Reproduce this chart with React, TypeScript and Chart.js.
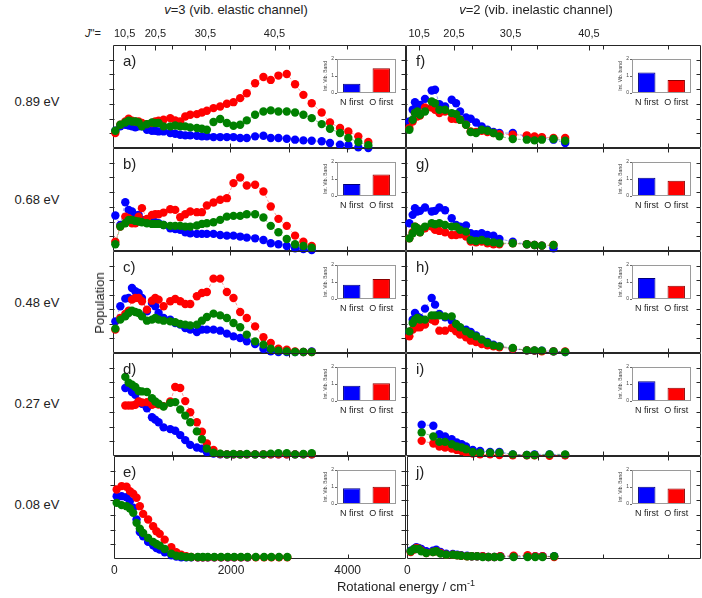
import React, { useEffect, useRef } from "react";
import { Chart, registerables } from "chart.js";
Chart.register(...registerables);

const FONT = '"Liberation Sans", Arial, Helvetica, sans-serif';

// Rotational energies (cm^-1) of plotted J'' levels
const energiesV3 = [40, 125, 210, 267, 324, 381, 437, 494, 579, 665, 721, 778, 863, 977, 1062, 1147, 1233, 1318, 1431, 1517, 1602, 1715, 1829, 1943, 2056, 2170, 2283, 2425, 2567, 2692, 2823, 2965, 3107, 3249, 3391, 3561, 3703, 3874, 4016, 4186, 4357];
const energiesV2 = [51, 102, 137, 173, 214, 290, 392, 443, 509, 596, 697, 764, 825, 916, 987, 1069, 1155, 1242, 1334, 1425, 1629, 1843, 1960, 2072, 2250, 2428];
const energiesV2i = [239, 417, 509, 596, 697, 774, 850, 916, 1018, 1130, 1283, 1425, 1629, 1843, 1960, 2189, 2428];

// Top axis J'' labels
const jLabels = ["10,5", "20,5", "30,5", "40,5"];
const jEnergiesV3 = [198, 723, 1576, 2756];
const jEnergiesV2 = [200, 732, 1595, 2790];

// v=3 panels (a-e)
const aBlue = [1.68, 2.1, 2.26, 2.19, 2.1, 2.0, 2.1, 2.1, 1.77, 1.68, 1.68, 1.61, 1.61, 1.45, 1.39, 1.29, 1.23, 1.23, 1.19, 1.13, 1.13, 1.06, 1.06, 1.06, 1.06, 0.97, 0.97, 1.13, 1.19, 0.97, 0.97, 0.9, 0.81, 0.74, 0.71, 0.65, 0.48, 0.32, 0.26, 0.06, 0.0];
const aRed = [1.45, 2.26, 2.58, 2.84, 2.65, 2.58, 2.58, 2.42, 2.32, 2.42, 2.58, 2.65, 2.74, 2.9, 2.68, 2.58, 3.06, 3.23, 3.29, 3.45, 3.61, 3.87, 4.03, 4.29, 4.45, 4.84, 5.32, 6.29, 6.9, 6.61, 7.03, 7.19, 6.19, 5.16, 4.35, 3.45, 2.48, 1.94, 1.61, 1.13, 0.58];
const aGreen = [1.68, 2.26, 2.48, 2.65, 2.58, 2.58, 2.48, 2.1, 2.32, 2.48, 2.42, 2.42, 2.1, 2.1, 2.19, 2.1, 2.1, 2.0, 1.94, 1.87, 1.77, 2.52, 2.81, 2.42, 2.16, 2.26, 2.68, 3.23, 3.55, 3.65, 3.55, 3.55, 3.45, 3.23, 2.9, 2.32, 1.87, 1.45, 0.97, 0.58, 0.26];

const bBlue = [3.44, 2.53, 4.74, 3.99, 3.83, 3.44, 3.51, 3.02, 2.79, 2.79, 2.79, 2.69, 2.53, 2.21, 2.14, 2.05, 1.82, 1.72, 1.66, 1.66, 1.66, 1.66, 1.56, 1.49, 1.49, 1.4, 1.3, 1.23, 1.07, 0.75, 0.65, 0.49, 0.26, 0.19, 0.1];
const bRed = [0.91, 2.37, 3.34, 3.18, 2.69, 2.69, 3.34, 4.16, 3.12, 3.51, 3.57, 3.57, 3.73, 4.06, 3.99, 3.28, 3.57, 3.83, 3.77, 3.77, 4.42, 4.71, 4.97, 5.13, 6.59, 7.14, 6.36, 6.43, 5.78, 4.32, 3.12, 2.44, 1.49, 0.91, 0.49];
const bGreen = [0.65, 2.37, 2.69, 3.02, 3.02, 2.92, 2.86, 2.79, 2.69, 2.63, 2.63, 2.63, 2.53, 2.44, 2.44, 2.44, 2.37, 2.37, 2.47, 2.63, 2.69, 2.79, 3.02, 3.34, 3.41, 3.41, 3.57, 3.57, 3.25, 2.44, 1.82, 1.17, 0.65, 0.49, 0.32];

const cBlue = [3.1, 4.58, 5.33, 5.39, 6.37, 6.05, 5.88, 5.39, 4.08, 4.9, 4.58, 3.92, 3.43, 3.27, 2.94, 2.78, 2.45, 2.29, 2.06, 2.29, 2.29, 2.29, 2.19, 1.9, 1.63, 1.47, 1.14, 0.88, 0.42, 0.16, 0.1, 0.1, 0.1, 0.1, 0.16];
const cRed = [2.29, 3.43, 3.82, 4.15, 5.23, 5.39, 5.39, 5.07, 4.25, 5.13, 5.39, 5.23, 4.58, 5.07, 5.29, 5.07, 4.8, 4.8, 5.56, 5.88, 5.98, 7.29, 7.29, 5.98, 5.39, 4.02, 3.43, 2.61, 1.54, 0.98, 0.42, 0.33, 0.16, 0.1, 0.1];
const cGreen = [2.39, 3.27, 3.59, 3.92, 4.15, 4.02, 3.92, 3.59, 3.17, 3.27, 3.43, 3.27, 3.17, 3.1, 3.01, 2.84, 2.78, 2.71, 2.78, 3.17, 3.53, 3.86, 3.69, 3.43, 2.94, 2.52, 1.8, 1.14, 0.82, 0.42, 0.23, 0.16, 0.1, 0.1, 0.1];

const dBlue = [null, null, 6.6, 6.7, 6.21, 5.95, 5.29, 5.07, 4.64, 3.76, 3.53, 3.27, 2.78, 2.61, 2.45, 2.03, 1.54, 1.08, 0.82, 0.72, 0.39, 0.23, 0.16, 0.16, 0.16, 0.16, 0.16, 0.16, 0.16, 0.16, 0.16, 0.16, 0.16, 0.16, 0.16];
const dRed = [null, null, 4.9, 4.9, 4.9, 4.97, 5.29, 5.2, 5.23, 4.97, 5.07, 5.0, 4.84, 5.29, 6.7, 6.6, 5.33, 4.25, 3.27, 2.35, 1.21, 0.59, 0.2, 0.16, 0.16, 0.16, 0.16, 0.16, 0.16, 0.16, 0.16, 0.16, 0.16, 0.16, 0.16];
const dGreen = [null, null, 7.68, 7.12, 6.93, 6.7, 6.31, 6.27, 6.21, 5.62, 5.29, 5.07, 4.8, 5.16, 5.23, 4.51, 3.92, 3.27, 2.39, 1.63, 0.72, 0.33, 0.23, 0.16, 0.2, 0.16, 0.2, 0.16, 0.16, 0.23, 0.26, 0.26, 0.16, 0.2, 0.26];

const eBlue = [6.1, 6.1, 6.0, 5.62, 4.97, 3.83, 2.63, 2.21, 1.66, 1.33, 1.07, 0.91, 0.65, 0.36, 0.23, 0.16, 0.16, 0.16, 0.16, 0.16, 0.16, 0.16, 0.16, 0.16, 0.16, 0.16, 0.16];
const eRed = [6.75, 7.08, 7.01, 6.59, 6.33, 5.94, 5.13, 4.38, 3.83, 3.18, 2.69, 2.44, 1.88, 1.14, 0.65, 0.42, 0.26, 0.19, 0.16, 0.16, 0.16, 0.16, 0.16, 0.16, 0.16, 0.16, 0.16, 0.16, 0.16, 0.16, 0.16, 0.16];
const eGreen = [5.45, 5.23, 5.13, 4.9, 4.48, 3.51, 2.95, 2.53, 2.05, 1.66, 1.46, 1.3, 0.97, 0.52, 0.32, 0.26, 0.19, 0.19, 0.19, 0.19, 0.19, 0.19, 0.19, 0.19, 0.19, 0.19, 0.19, 0.19, 0.19, 0.19, 0.19, 0.19];

// v=2 panels (f-j)
const fBlue = [2.58, 3.71, 4.45, 4.19, 4.19, 4.77, 5.58, 5.65, 4.26, 4.03, 4.68, 4.35, 3.55, 2.97, 2.84, 2.48, 2.1, 1.77, 1.55, 1.45, 1.45, 1.13, 0.9, 0.97, 0.81, 0.48];
const fRed = [1.94, 2.58, 3.39, 3.06, 3.16, 3.94, 3.94, 3.71, 3.39, 3.55, 2.84, 2.81, 2.74, 2.26, 1.61, 1.55, 1.68, 1.55, 1.45, 1.35, 1.29, 1.23, 1.13, 1.06, 0.97, 0.97];
const fGreen = [1.77, 2.74, 3.39, 3.55, 3.23, 3.55, 4.52, 4.35, 3.71, 3.71, 3.39, 3.29, 2.74, 2.26, 1.55, 1.45, 1.77, 1.68, 1.45, 1.13, 0.87, 0.81, 0.74, 0.81, 0.87, 0.71];

const gBlue = [2.69, 3.51, 4.16, 3.83, 3.9, 4.22, 3.83, 3.9, 4.22, 3.96, 3.18, 2.53, 2.37, 2.47, 1.72, 1.62, 1.72, 1.56, 1.49, 1.17, 0.91, 0.65, 0.58, 0.52, 0.26];
const gRed = [1.23, 1.82, 2.37, 2.21, 1.82, 2.21, 2.37, 2.05, 1.95, 1.82, 1.56, 1.56, 1.62, 1.4, 0.91, 0.84, 0.91, 0.75, 0.65, 0.65, 0.75, 0.65, 0.58, 0.52, 0.58];
const gGreen = [1.23, 1.72, 2.37, 2.21, 1.82, 2.37, 2.69, 2.6, 2.69, 2.53, 2.37, 2.37, 2.05, 1.88, 1.07, 0.97, 1.07, 0.91, 0.84, 0.75, 0.75, 0.65, 0.58, 0.52, 0.58];

const hBlue = [2.06, 3.27, 3.92, 3.59, 3.43, 4.35, 5.39, 4.74, 3.82, 3.5, 3.17, 2.78, 2.45, 2.29, 2.06, 1.73, 1.31, 1.08, 0.82, 0.65, 0.42, 0.26, 0.23, 0.23, 0.16, 0.1];
const hRed = [1.63, 2.29, 2.61, 2.52, 2.52, 2.78, 3.27, 3.1, 2.19, 2.19, 2.45, 2.12, 1.8, 1.54, 1.21, 1.08, 0.88, 0.75, 0.65, 0.56, 0.42, 0.26, 0.23, 0.16, 0.16, 0.16];
const hGreen = [2.12, 2.94, 3.27, 3.43, 3.27, 3.27, 3.69, 3.69, 3.69, 3.59, 3.59, 2.84, 2.52, 2.12, 1.86, 1.63, 1.31, 0.98, 0.75, 0.65, 0.49, 0.26, 0.26, 0.23, 0.16, 0.1];

const iBlue = [3.04, 2.94, 2.12, 1.9, 1.63, 1.31, 1.14, 0.92, 0.59, 0.49, 0.39, 0.39, 0.16, 0.1, 0.16, 0.16, 0.1];
const iRed = [1.47, 1.21, 0.92, 0.82, 0.72, 0.59, 0.49, 0.33, 0.23, 0.16, 0.16, 0.1, 0.07, 0.07, 0.07, 0.03, 0.07];
const iGreen = [2.29, 1.9, 1.37, 1.37, 1.14, 0.92, 0.82, 0.65, 0.39, 0.33, 0.33, 0.33, 0.16, 0.1, 0.1, 0.16, 0.16];

const jBlue = [0.81, 0.97, 1.14, 1.07, 0.97, 0.75, 0.81, 0.91, 0.68, 0.52, 0.49, 0.42, 0.36, 0.32, 0.26, 0.26, 0.26, 0.19, 0.19, 0.26, 0.26, 0.26, 0.26, 0.26, 0.26];
const jRed = [0.68, 0.91, 1.07, 1.01, 0.81, 0.58, 0.68, 0.75, 0.58, 0.42, 0.42, 0.36, 0.32, 0.26, 0.26, 0.26, 0.26, 0.19, 0.19, 0.26, 0.32, 0.36, 0.26, 0.26, 0.19];
const jGreen = [0.75, 0.97, 0.97, 0.97, 0.75, 0.58, 0.68, 0.75, 0.52, 0.42, 0.42, 0.36, 0.32, 0.26, 0.26, 0.26, 0.19, 0.19, 0.19, 0.19, 0.19, 0.19, 0.19, 0.19, 0.26];

// Inset bar values (Int. Vib. Band): [N first, O first]
const barLabels = ["N first", "O first"];
const barsA = [0.55, 1.45];
const barsB = [0.71, 1.26];
const barsC = [0.84, 1.18];
const barsD = [0.9, 1.05];
const barsE = [0.93, 1.01];
const barsF = [1.2, 0.76];
const barsG = [1.08, 0.9];
const barsH = [1.24, 0.78];
const barsI = [1.16, 0.78];
const barsJ = [1.01, 0.91];

const rowLabels = ["0.89 eV", "0.68 eV", "0.48 eV", "0.27 eV", "0.08 eV"];
const panelLetters = ["a)", "b)", "c)", "d)", "e)", "f)", "g)", "h)", "i)", "j)"];

// Layout
const COL_X = [113, 406];
const COL_W = [293, 295];
const X_MAX = [5000, 4500];
const ROW_TOP = [45, 148, 251, 353, 456];
const ROW_BOTTOM = 559;
const ROW_LABEL_Y = [102, 200, 303, 404, 505];
const Y_MAX = 10;
const Y_DIV = 7;

const BLUE = "#0000ff";
const RED = "#ff0000";
const GREEN = "#008000";

function toPoints(energies: number[], values: (number | null)[]) {
  const pts: { x: number; y: number }[] = [];
  values.forEach((v, i) => {
    if (v !== null && i < energies.length) pts.push({ x: energies[i], y: v });
  });
  return pts;
}

function framePlugin(jEnergies: number[] | null) {
  return {
    id: "frameTicks",
    beforeDatasetsDraw(chart: any) {
      const { ctx, chartArea: ca } = chart;
      const xs = chart.scales.x;
      const ys = chart.scales.y;
      ctx.save();
      ctx.strokeStyle = "#262626";
      ctx.lineWidth = 1;
      const L = Math.round(ca.left) + 0.5;
      const R = Math.round(ca.right) - 0.5;
      const T = Math.round(ca.top) + 0.5;
      const B = Math.round(ca.bottom) - 0.5;
      ctx.beginPath();
      ctx.rect(L, T, R - L, B - T);
      for (let v = 1000; v < xs.max; v += 1000) {
        const px = Math.round(xs.getPixelForValue(v)) + 0.5;
        ctx.moveTo(px, B);
        ctx.lineTo(px, B - 4);
        ctx.moveTo(px, T);
        ctx.lineTo(px, T + 4);
      }
      for (let k = 1; k < Y_DIV; k++) {
        const py = Math.round(ys.getPixelForValue((k * Y_MAX) / Y_DIV)) + 0.5;
        ctx.moveTo(L - 4, py);
        ctx.lineTo(L + 1, py);
        ctx.moveTo(R - 4, py);
        ctx.lineTo(R, py);
      }
      if (jEnergies) {
        for (const e of jEnergies) {
          const px = Math.round(xs.getPixelForValue(e)) + 0.5;
          ctx.moveTo(px, T);
          ctx.lineTo(px, T + 5);
        }
      }
      ctx.stroke();
      if (jEnergies) {
        ctx.fillStyle = "#222";
        ctx.font = `11px ${FONT}`;
        ctx.textAlign = "center";
        ctx.textBaseline = "middle";
        jEnergies.forEach((e, i) => ctx.fillText(jLabels[i], xs.getPixelForValue(e), T - 12));
      }
      ctx.restore();
    },
  };
}

type PanelProps = {
  col: number;
  row: number;
  energies: number[];
  blue: (number | null)[];
  red: (number | null)[];
  green: (number | null)[];
};

function Panel({ col, row, energies, blue, red, green }: PanelProps) {
  const ref = useRef<HTMLCanvasElement>(null);
  const P = 6;
  const isTop = row === 0;
  const isBottom = row === 4;
  const PT = isTop ? 22 : P;
  const AX = 24;
  const x0 = COL_X[col];
  const w = COL_W[col];
  const top = ROW_TOP[row];
  const h = (row < 4 ? ROW_TOP[row + 1] : ROW_BOTTOM) - top;
  const cw = w + 2 * P;
  const ch = PT + h + (isBottom ? AX : P);

  useEffect(() => {
    const mk = (vals: (number | null)[], color: string, line: string) => ({
      data: toPoints(energies, vals),
      showLine: true,
      borderColor: line,
      borderWidth: 1,
      borderDash: [3, 2],
      pointRadius: 4.2,
      pointBackgroundColor: color,
      pointBorderColor: color,
      pointBorderWidth: 0,
      clip: false,
    });
    const jE = isTop ? (col === 0 ? jEnergiesV3 : jEnergiesV2) : null;
    const xScale: any = {
      type: "linear",
      min: 0,
      max: X_MAX[col],
      display: isBottom,
      grid: { display: false, drawTicks: false },
      border: { display: false },
      ticks: {
        stepSize: 1000,
        autoSkip: false,
        maxRotation: 0,
        minRotation: 0,
        padding: 4,
        color: "#222",
        font: { size: 12, family: FONT },
        callback: (v: any) => (Number(v) % 2000 === 0 ? String(v) : ""),
      },
    };
    if (isBottom) {
      xScale.afterFit = (s: any) => {
        s.height = AX;
      };
    }
    const chart = new Chart(ref.current as HTMLCanvasElement, {
      type: "scatter",
      data: {
        datasets: [
          mk(green, GREEN, "rgba(0,128,0,0.45)"),
          mk(red, RED, "rgba(255,0,0,0.4)"),
          mk(blue, BLUE, "rgba(0,0,255,0.4)"),
        ],
      },
      options: {
        responsive: false,
        maintainAspectRatio: false,
        animation: false,
        devicePixelRatio: 1,
        events: [],
        layout: { padding: { left: P, right: P, top: PT, bottom: isBottom ? 0 : P } },
        scales: {
          x: xScale,
          y: { type: "linear", min: 0, max: Y_MAX, display: false },
        },
        plugins: { legend: { display: false }, tooltip: { enabled: false } },
      } as any,
      plugins: [framePlugin(jE)],
    });
    return () => chart.destroy();
  }, []);

  return (
    <canvas
      ref={ref}
      width={cw}
      height={ch}
      style={{ position: "absolute", left: x0 - P, top: top - PT, width: cw, height: ch }}
    />
  );
}

const insetFrame = {
  id: "insetFrame",
  afterDatasetsDraw(chart: any) {
    const { ctx, chartArea: ca } = chart;
    ctx.save();
    ctx.strokeStyle = "#9a9a9a";
    ctx.lineWidth = 1;
    ctx.strokeRect(Math.round(ca.left) + 0.5, Math.round(ca.top) + 0.5, Math.round(ca.width) - 1, Math.round(ca.height) - 1);
    ctx.restore();
  },
};

function Inset({ col, row, values, yTitle }: { col: number; row: number; values: number[]; yTitle: string }) {
  const ref = useRef<HTMLCanvasElement>(null);
  const YW = 14;
  const PT = 3;
  const PR = 3;
  const XH = 14;
  const FW = 59;
  const FH = 35;
  const fl = col === 0 ? 337 : 632;
  const ft = ROW_TOP[row] + 13;
  const cw = YW + FW + PR;
  const ch = PT + FH + XH;

  useEffect(() => {
    const chart = new Chart(ref.current as HTMLCanvasElement, {
      type: "bar",
      data: {
        labels: barLabels,
        datasets: [
          {
            data: values,
            backgroundColor: [BLUE, RED],
            borderColor: ["#00007a", "#8a0000"],
            borderWidth: 1,
            barPercentage: 0.59,
            categoryPercentage: 1,
          },
        ],
      },
      options: {
        responsive: false,
        maintainAspectRatio: false,
        animation: false,
        devicePixelRatio: 1,
        events: [],
        layout: { padding: { left: 0, right: PR, top: PT, bottom: 0 } },
        scales: {
          x: {
            grid: { display: false, drawTicks: false },
            border: { display: false },
            ticks: {
              padding: 4,
              autoSkip: false,
              maxRotation: 0,
              minRotation: 0,
              color: "#222",
              font: { size: 9, family: FONT },
            },
            afterFit: (s: any) => {
              s.height = XH;
              s.paddingLeft = 0;
              s.paddingRight = 0;
            },
          },
          y: {
            min: 0,
            max: 2,
            ticks: { stepSize: 1, padding: 1, color: "#444", font: { size: 5, family: FONT } },
            grid: { drawOnChartArea: false, tickLength: 2, color: "#666" },
            border: { display: false },
            title: { display: true, text: yTitle, padding: 0, color: "#444", font: { size: 5, family: FONT } },
            afterFit: (s: any) => {
              s.width = YW;
            },
          },
        },
        plugins: { legend: { display: false }, tooltip: { enabled: false } },
      } as any,
      plugins: [insetFrame],
    });
    return () => chart.destroy();
  }, []);

  return (
    <canvas
      ref={ref}
      width={cw}
      height={ch}
      style={{ position: "absolute", left: fl - YW, top: ft - PT, width: cw, height: ch }}
    />
  );
}

const panels = [
  { col: 0, row: 0, energies: energiesV3, blue: aBlue, red: aRed, green: aGreen, bars: barsA },
  { col: 0, row: 1, energies: energiesV3, blue: bBlue, red: bRed, green: bGreen, bars: barsB },
  { col: 0, row: 2, energies: energiesV3, blue: cBlue, red: cRed, green: cGreen, bars: barsC },
  { col: 0, row: 3, energies: energiesV3, blue: dBlue, red: dRed, green: dGreen, bars: barsD },
  { col: 0, row: 4, energies: energiesV3, blue: eBlue, red: eRed, green: eGreen, bars: barsE },
  { col: 1, row: 0, energies: energiesV2, blue: fBlue, red: fRed, green: fGreen, bars: barsF },
  { col: 1, row: 1, energies: energiesV2, blue: gBlue, red: gRed, green: gGreen, bars: barsG },
  { col: 1, row: 2, energies: energiesV2, blue: hBlue, red: hRed, green: hGreen, bars: barsH },
  { col: 1, row: 3, energies: energiesV2i, blue: iBlue, red: iRed, green: iGreen, bars: barsI },
  { col: 1, row: 4, energies: energiesV2, blue: jBlue, red: jRed, green: jGreen, bars: barsJ },
];

const abs = (extra: React.CSSProperties): React.CSSProperties => ({ position: "absolute", whiteSpace: "nowrap", ...extra });

export default function App() {
  return (
    <div
      style={{
        position: "fixed",
        left: 0,
        top: 0,
        width: 702,
        height: 598,
        background: "#fff",
        fontFamily: FONT,
        color: "#222",
        overflow: "hidden",
      }}
    >
      {panels.map((p, i) => (
        <Panel key={"p" + i} col={p.col} row={p.row} energies={p.energies} blue={p.blue} red={p.red} green={p.green} />
      ))}
      {panels.map((p, i) => (
        <Inset key={"i" + i} col={p.col} row={p.row} values={p.bars} yTitle={i === 5 ? "Int. Vib. band" : "Int. Vib. Band"} />
      ))}
      {panels.map((p, i) => (
        <div key={"l" + i} style={abs({ left: COL_X[p.col] + 10, top: ROW_TOP[p.row] + 7, fontSize: 15, lineHeight: "18px" })}>
          {panelLetters[i]}
        </div>
      ))}
      {rowLabels.map((t, i) => (
        <div key={"r" + i} style={abs({ left: 0, width: 74, textAlign: "center", top: ROW_LABEL_Y[i] - 8, fontSize: 13, lineHeight: "16px" })}>
          {t}
        </div>
      ))}
      <div style={abs({ left: 236, top: 2, transform: "translateX(-50%)", fontSize: 13, lineHeight: "16px" })}>
        <i>v</i>=3 (vib. elastic channel)
      </div>
      <div style={abs({ left: 536, top: 2, transform: "translateX(-50%)", fontSize: 13, lineHeight: "16px" })}>
        <i>v</i>=2 (vib. inelastic channel)
      </div>
      <div style={abs({ left: 60, width: 41, textAlign: "right", top: 26, fontSize: 11, lineHeight: "14px" })}>
        <i>J</i>''=
      </div>
      <div
        style={abs({
          left: 100,
          top: 303,
          transform: "translate(-50%, -50%) rotate(-90deg)",
          fontSize: 13,
          lineHeight: "16px",
        })}
      >
        Population
      </div>
      <div style={abs({ left: 406, top: 579, transform: "translateX(-50%)", fontSize: 13, lineHeight: "16px" })}>
        Rotational energy / cm<sup style={{ fontSize: 9, verticalAlign: "5px", lineHeight: 0 }}>-1</sup>
      </div>
    </div>
  );
}
